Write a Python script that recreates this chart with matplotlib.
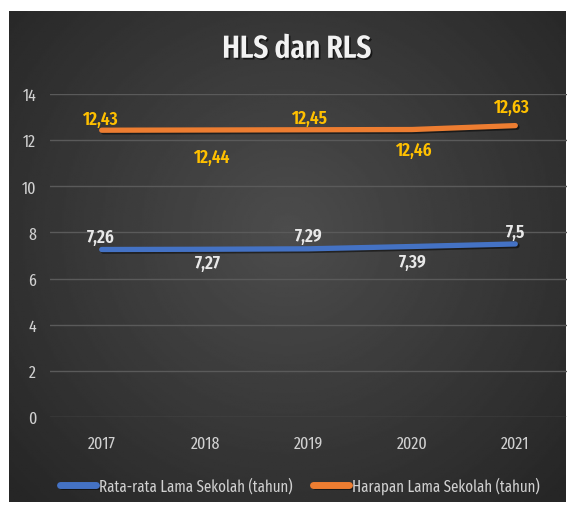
import numpy as np
import matplotlib.pyplot as plt
import matplotlib.patheffects as pe

plt.rcParams.update({
    "font.family": ["Fira Sans Extra Condensed", "DejaVu Sans"],
    "font.size": 12,
})

years = ["2017", "2018", "2019", "2020", "2021"]
rls = [7.26, 7.27, 7.29, 7.39, 7.5]
hls = [12.43, 12.44, 12.45, 12.46, 12.63]
rls_labels = ["7,26", "7,27", "7,29", "7,39", "7,5"]
hls_labels = ["12,43", "12,44", "12,45", "12,46", "12,63"]

# label baseline offsets in pixels (dx, dy) relative to the point, as Excel placed them
hls_off = [(-1, 6), (7, -32), (1, 7), (2, -25), (-3, 14)]
rls_off = [(-1, 8), (3, -19), (0, 8), (1, -20), (0, 7)]

W, H = 574, 510
fig = plt.figure(figsize=(W / 100, H / 100), dpi=100, facecolor="white")

# dark radial gradient background
bg = fig.add_axes([9 / W, 1 - 503 / H, (566 - 9) / W, (503 - 12) / H])
yy, xx = np.mgrid[-1:1:300j, -1:1:300j]
rr = np.sqrt(xx ** 2 + ((yy + 0.1) * 0.9) ** 2)
grad = np.clip(0.30 - 0.11 * rr, 0.15, 0.30)
bg.imshow(grad, cmap="gray", vmin=0, vmax=1, aspect="auto", extent=[0, 1, 0, 1])
bg.set_axis_off()

ax = fig.add_axes([50 / W, 1 - 418 / H, 517 / W, 323 / H])
ax.patch.set_alpha(0)
x = np.arange(len(years))

shadow = [pe.SimpleLineShadow(offset=(1.2, -1.2), shadow_color="black", alpha=0.5), pe.Normal()]
ax.plot(x, rls, color="#4472C4", lw=3.8, solid_capstyle="round", path_effects=shadow,
        label="Rata-rata Lama Sekolah (tahun)", zorder=3)
ax.plot(x, hls, color="#ED7D31", lw=3.8, solid_capstyle="round", path_effects=shadow,
        label="Harapan Lama Sekolah (tahun)", zorder=3)

for i in x:
    ax.annotate(hls_labels[i], (i, hls[i]), xytext=hls_off[i], textcoords="offset pixels",
                ha="center", va="baseline", color="#FFC000", fontsize=13.5, fontweight="semibold")
    ax.annotate(rls_labels[i], (i, rls[i]), xytext=rls_off[i], textcoords="offset pixels",
                ha="center", va="baseline", color="#E8E8E8", fontsize=13.5, fontweight="semibold")

ax.set_xlim(-0.5, 4.5)
ax.set_ylim(0, 14)
ax.set_yticks(range(0, 15, 2))
ax.set_xticks(x, years)
ax.tick_params(length=0, colors="#D0D0D0", labelsize=12.5)
ax.tick_params(axis="x", pad=13)
ax.tick_params(axis="y", pad=10)
ax.grid(axis="y", color="#5A5A5A", lw=1)
ax.set_axisbelow(True)
for s in ax.spines.values():
    s.set_visible(False)

fig.text(297 / W, 1 - 50 / H, "HLS dan RLS", ha="center", va="center", color="#F2F2F2",
         fontsize=23, fontweight="semibold",
         path_effects=[pe.withSimplePatchShadow(offset=(1.2, -1.2), shadow_rgbFace="black", alpha=0.6)])

leg = fig.legend(loc="center", bbox_to_anchor=(300 / W, 1 - 486 / H), ncol=2, frameon=False,
                 handlelength=2.2, handletextpad=0.2, columnspacing=1.25, fontsize=11.7)
for t in leg.get_texts():
    t.set_color("#D0D0D0")
for h in leg.get_lines():
    h.set_linewidth(5)

fig.savefig("out.png", dpi=100, facecolor="white")
